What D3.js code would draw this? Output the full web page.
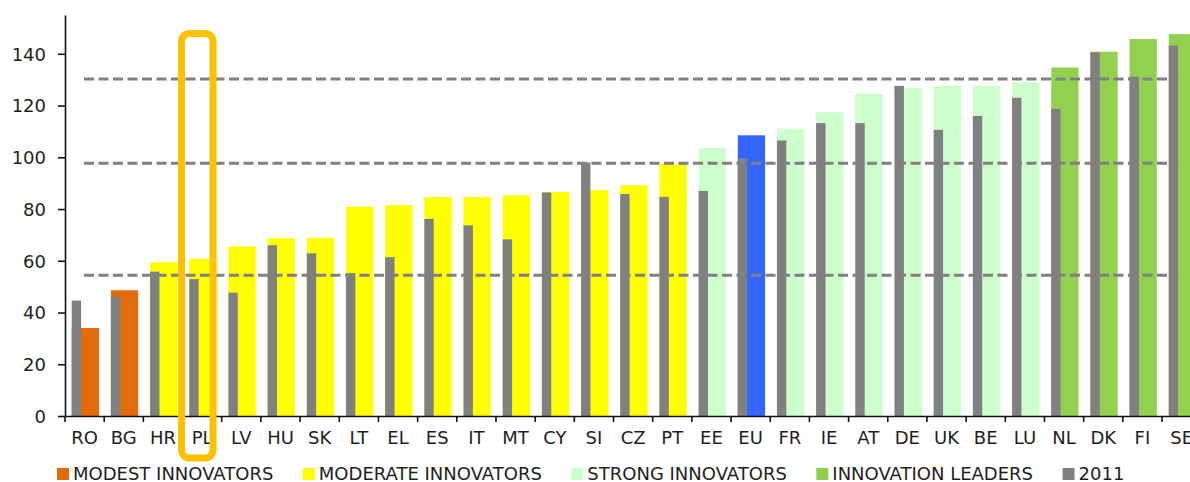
<!DOCTYPE html>
<html>
<head>
<meta charset="utf-8">
<script src="https://cdn.jsdelivr.net/npm/d3@7"></script>
<style>
  html, body { margin: 0; padding: 0; background: #fff; overflow: hidden; }
  text { font-family: "DejaVu Sans", sans-serif; fill: #1e1e1e; }
</style>
</head>
<body>
<div id="chart"></div>
<script>
// countries, ordered as in the chart
var countries = ["RO","BG","HR","PL","LV","HU","SK","LT","EL","ES","IT","MT","CY","SI",
                 "CZ","PT","EE","EU","FR","IE","AT","DE","UK","BE","LU","NL","DK","FI","SE"];
// latest score
var scores = [34,48.6,59.4,60.8,65.5,68.7,68.9,80.9,81.5,84.6,84.6,85.3,86.6,87.3,
              89.2,97.4,103.6,108.5,110.9,117.4,124.6,126.7,127.6,127.7,129,134.7,140.8,145.7,147.6];
// 2011 score
var scores2011 = [44.6,46.1,55.8,52.9,47.7,66,62.9,55.2,61.4,76.2,73.7,68.3,86.4,98,
                  85.8,84.7,87,99.6,106.5,113.2,113.2,127.6,110.6,116,123,118.7,140.6,131.2,143.2];
// performance group of each country
var groups = ["modest","modest","moderate","moderate","moderate","moderate","moderate","moderate",
              "moderate","moderate","moderate","moderate","moderate","moderate","moderate","moderate",
              "strong","eu","strong","strong","strong","strong","strong","strong","strong",
              "leader","leader","leader","leader"];
var thresholds = [130.3, 97.7, 54.4];
var yTicks = [0,20,40,60,80,100,120,140];
var legendKeys = ["modest","moderate","strong","leader","y2011"];
var legendLabels = ["MODEST INNOVATORS","MODERATE INNOVATORS","STRONG INNOVATORS","INNOVATION LEADERS","2011"];
var highlighted = "PL";

var colors = {modest:"#e36c0a", moderate:"#ffff00", strong:"#ccffcc", leader:"#92d050",
              eu:"#3366ff", y2011:"#808080"};

var width = 1190, height = 482;
var left = 65, bottom = 416, band = 39.18;

var svg = d3.select("#chart").append("svg")
    .attr("width", width)
    .attr("height", height);

var x = d3.scaleBand()
    .domain(countries)
    .range([left, left + countries.length * band])
    .padding(0);

var y = d3.scaleLinear()
    .domain([0, 155])
    .range([bottom, 15]);

// main bars
svg.append("g").selectAll("rect")
    .data(countries)
  .enter().append("rect")
    .attr("x", function(d){ return x(d) + 6.7; })
    .attr("width", 27.3)
    .attr("y", function(d,i){ return y(scores[i]); })
    .attr("height", function(d,i){ return y(0) - y(scores[i]); })
    .style("fill", function(d,i){ return colors[groups[i]]; });

// 2011 bars
svg.append("g").selectAll("rect")
    .data(countries)
  .enter().append("rect")
    .attr("x", function(d){ return x(d) + 6.7; })
    .attr("width", 9.4)
    .attr("y", function(d,i){ return y(scores2011[i]); })
    .attr("height", function(d,i){ return y(0) - y(scores2011[i]); })
    .style("fill", colors.y2011);

// threshold lines
svg.append("g").selectAll("line")
    .data(thresholds)
  .enter().append("line")
    .attr("x1", x("RO") + 19)
    .attr("x2", x("SE") + 16)
    .attr("y1", function(d){ return y(d); })
    .attr("y2", function(d){ return y(d); })
    .style("stroke", "#808080")
    .style("stroke-width", 3)
    .style("stroke-dasharray", "10,4.5");

// y axis
var yAxis = svg.append("g")
    .attr("transform", "translate(" + left + ",0)")
    .call(d3.axisLeft(y).tickValues(yTicks).tickSize(7).tickSizeOuter(0).tickPadding(12));
yAxis.select(".domain").style("stroke", "#111").style("stroke-width", 1.6);
yAxis.selectAll(".tick line").style("stroke", "#111").style("stroke-width", 1.6);
yAxis.selectAll("text").style("font-size", "18px").style("font-family", "DejaVu Sans")
    .style("fill", "#1e1e1e").attr("dy", "0.35em");

// x axis
var xAxis = svg.append("g")
    .attr("transform", "translate(0," + bottom + ")")
    .call(d3.axisBottom(x).tickSize(0).tickSizeOuter(0).tickPadding(22));
xAxis.select(".domain").style("stroke", "#111").style("stroke-width", 1.6);
xAxis.selectAll("text").style("font-size", "18px").style("font-family", "DejaVu Sans")
    .style("fill", "#1e1e1e").attr("dy", "0.35em");
xAxis.selectAll(".band-tick")
    .data(countries)
  .enter().append("line")
    .attr("class", "band-tick")
    .attr("x1", function(d){ return x(d); })
    .attr("x2", function(d){ return x(d); })
    .attr("y1", 0)
    .attr("y2", 6)
    .style("stroke", "#111")
    .style("stroke-width", 1.6);

// highlight box
svg.append("rect")
    .attr("x", x(highlighted) - 1)
    .attr("y", 33.5)
    .attr("width", 31.5)
    .attr("height", 424.5)
    .attr("rx", 8)
    .style("fill", "none")
    .style("stroke", "#ffc000")
    .style("stroke-width", 7);

// legend
var legend = svg.append("g").attr("transform", "translate(57,468)");
var lx = 0;
legendKeys.forEach(function(k, i){
  var item = legend.append("g").attr("transform", "translate(" + lx + ",0)");
  item.append("rect")
      .attr("width", 12)
      .attr("height", 12)
      .style("fill", colors[k]);
  var t = item.append("text")
      .attr("x", 16)
      .attr("y", 12)
      .style("font-size", "18px")
      .text(legendLabels[i]);
  lx += 16 + t.node().getComputedTextLength() + 29.5;
});
</script>
</body>
</html>
